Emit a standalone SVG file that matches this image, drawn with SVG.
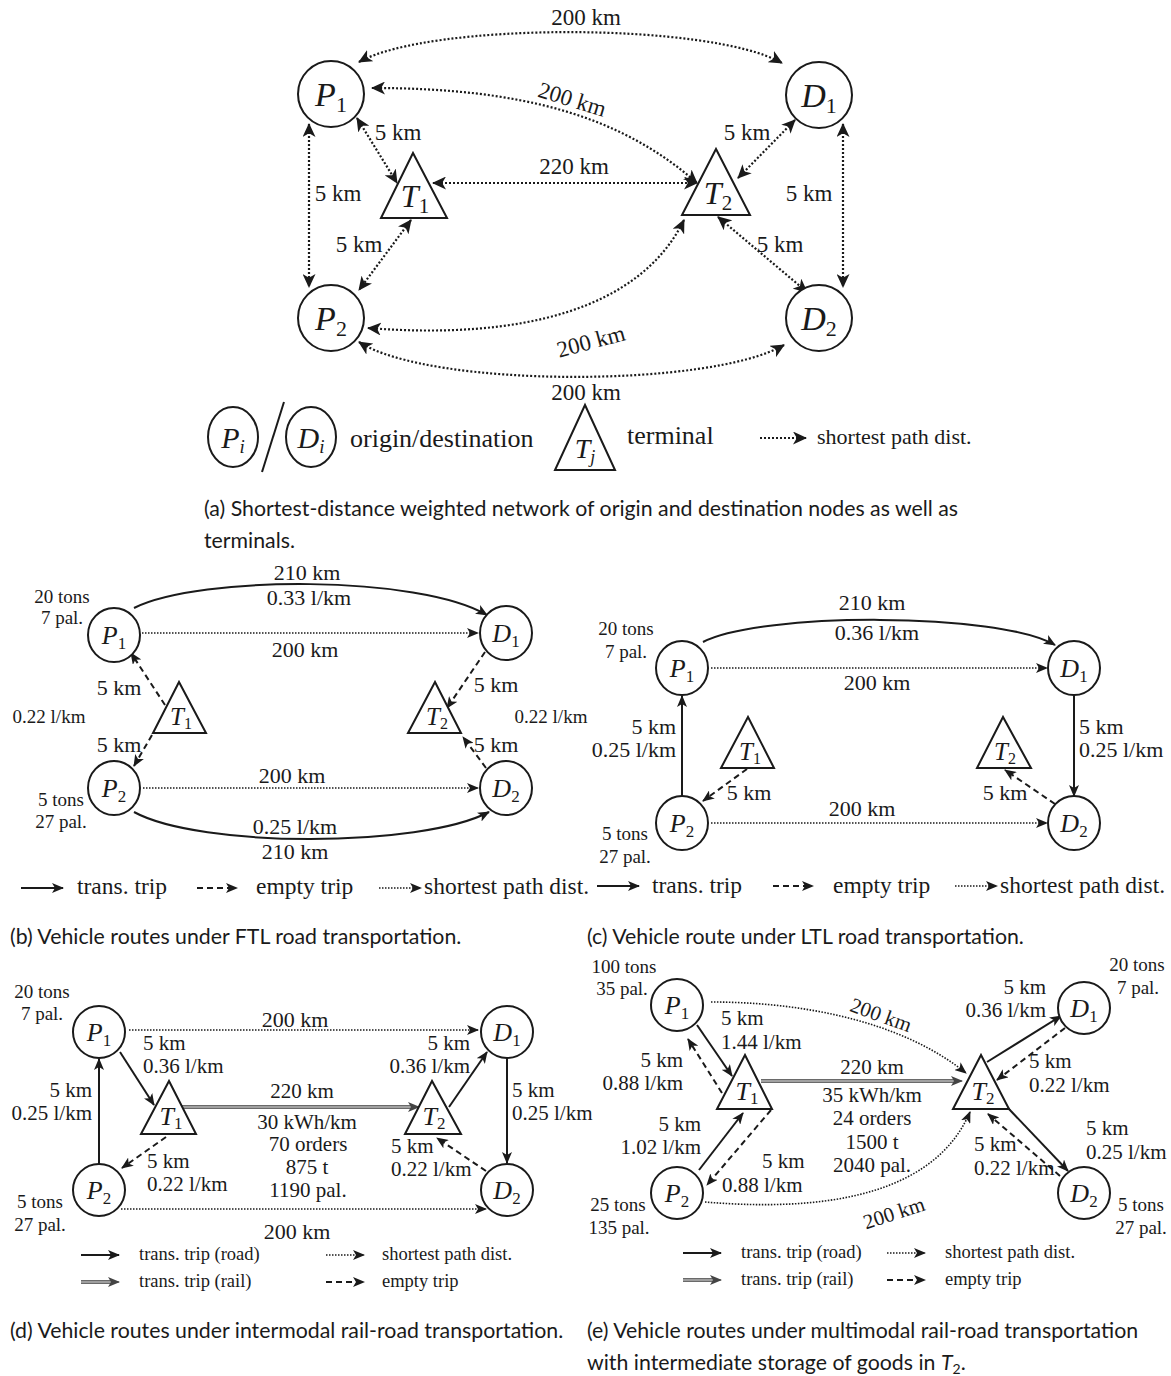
<svg xmlns="http://www.w3.org/2000/svg" width="1171" height="1376" viewBox="0 0 1171 1376">
<style>
.bg{fill:#fff}
.n{fill:#fff;stroke:#1a1a1a;stroke-width:2}
.nl{font-family:"Liberation Serif",serif;fill:#1a1a1a;text-anchor:middle}
.it{font-style:italic}
.t{font-family:"Liberation Serif",serif;fill:#1a1a1a;font-size:22px}
.ta{font-family:"Liberation Serif",serif;fill:#1a1a1a;font-size:23px;text-anchor:middle}
.m{text-anchor:middle}
.e{text-anchor:end}
.s{font-size:19px}
.u{font-size:21px}
.lb{font-size:23.5px}
.big{font-size:26px}
.lg{font-family:"Liberation Serif",serif;fill:#1a1a1a;font-size:18.5px}
.cap{font-family:Lato,"Open Sans",sans-serif;font-size:21.3px;fill:#1a1a1a}
.dotA{fill:none;stroke:#1a1a1a;stroke-width:2.2;stroke-dasharray:2 2}
.dot{fill:none;stroke:#1a1a1a;stroke-width:1.6;stroke-dasharray:1.5 1.5}
.sol{fill:none;stroke:#1a1a1a;stroke-width:2}
.dash{fill:none;stroke:#1a1a1a;stroke-width:2;stroke-dasharray:6 4}
.rail{fill:none;stroke:#6a6a6a;stroke-width:4}
.railc{fill:none;stroke:#b5b5b5;stroke-width:1.4}
</style>
<defs>
<marker id="ah" markerUnits="userSpaceOnUse" markerWidth="15" markerHeight="13" refX="13" refY="6.5" orient="auto-start-reverse" viewBox="0 0 15 13">
<path d="M0,0 L14,6.5 L0,13 L3.8,6.5 z" fill="#1a1a1a"/>
</marker>
<marker id="as" markerUnits="userSpaceOnUse" markerWidth="12" markerHeight="10" refX="11" refY="5" orient="auto-start-reverse" viewBox="0 0 12 10">
<path d="M0,0 L12,5 L0,10 L3,5 z" fill="#1a1a1a"/>
</marker>
<marker id="ag" markerUnits="userSpaceOnUse" markerWidth="12" markerHeight="10" refX="11" refY="5" orient="auto" viewBox="0 0 12 10">
<path d="M0,0 L12,5 L0,10 L3,5 z" fill="#444"/>
</marker>
</defs>
<rect class="bg" x="0" y="0" width="1171" height="1376"/>

<!-- ================= PANEL (a) ================= -->
<g id="a-connectors">
<path class="dotA" d="M359,62 C430,22 710,22 782,63" marker-start="url(#ah)" marker-end="url(#ah)"/>
<path class="dotA" d="M372,88 C520,88 620,115 697,183" marker-start="url(#ah)" marker-end="url(#ah)"/>
<path class="dotA" d="M357,118 L397,183" marker-start="url(#ah)" marker-end="url(#ah)"/>
<path class="dotA" d="M309,124 L309,287" marker-start="url(#ah)" marker-end="url(#ah)"/>
<path class="dotA" d="M433,183 L697,183" marker-start="url(#ah)" marker-end="url(#ah)"/>
<path class="dotA" d="M795,120 L738,178" marker-start="url(#ah)" marker-end="url(#ah)"/>
<path class="dotA" d="M843,124 L843,287" marker-start="url(#ah)" marker-end="url(#ah)"/>
<path class="dotA" d="M411,220 L359,290" marker-start="url(#ah)" marker-end="url(#ah)"/>
<path class="dotA" d="M718,217 L807,292" marker-start="url(#ah)" marker-end="url(#ah)"/>
<path class="dotA" d="M368,328 C520,340 640,310 684,220" marker-start="url(#ah)" marker-end="url(#ah)"/>
<path class="dotA" d="M359,342 C430,388 710,388 784,345" marker-start="url(#ah)" marker-end="url(#ah)"/>
<text class="ta" x="586" y="25">200 km</text>
<text class="ta" x="572" y="107" transform="rotate(17 572 100)">200 km</text>
<text class="ta" x="398" y="140">5 km</text>
<text class="ta" x="747" y="140">5 km</text>
<text class="ta" x="574" y="174">220 km</text>
<text class="ta" x="338" y="201">5 km</text>
<text class="ta" x="809" y="201">5 km</text>
<text class="ta" x="359" y="252">5 km</text>
<text class="ta" x="780" y="252">5 km</text>
<text class="ta" x="591" y="349" transform="rotate(-15 591 342)">200 km</text>
<text class="ta" x="586" y="400">200 km</text>
</g>
<g id="a-P1"><ellipse class="n" cx="331" cy="94" rx="33" ry="33"/><text class="nl" x="331" y="106" font-size="34"><tspan class="it">P</tspan><tspan font-size="22" dy="6">1</tspan></text></g>
<g id="a-D1"><ellipse class="n" cx="819" cy="95" rx="33" ry="33"/><text class="nl" x="819" y="107" font-size="34"><tspan class="it">D</tspan><tspan font-size="22" dy="6">1</tspan></text></g>
<g id="a-P2"><ellipse class="n" cx="331" cy="318" rx="33" ry="33"/><text class="nl" x="331" y="330" font-size="34"><tspan class="it">P</tspan><tspan font-size="22" dy="6">2</tspan></text></g>
<g id="a-D2"><ellipse class="n" cx="819" cy="318" rx="33" ry="33"/><text class="nl" x="819" y="330" font-size="34"><tspan class="it">D</tspan><tspan font-size="22" dy="6">2</tspan></text></g>
<g id="a-T1"><polygon class="n" points="413,153 381,218 447,218"/><text class="nl" x="415" y="207" font-size="32"><tspan class="it">T</tspan><tspan font-size="21" dy="6">1</tspan></text></g>
<g id="a-T2"><polygon class="n" points="716,149 682,215 750,215"/><text class="nl" x="718" y="204" font-size="32"><tspan class="it">T</tspan><tspan font-size="21" dy="6">2</tspan></text></g>

<g id="a-legend">
<ellipse class="n" cx="233" cy="437" rx="25" ry="30"/><text class="nl" x="233" y="448" font-size="30"><tspan class="it">P</tspan><tspan class="it" font-size="19" dy="5">i</tspan></text>
<line x1="262" y1="472" x2="284" y2="402" stroke="#1a1a1a" stroke-width="2"/>
<ellipse class="n" cx="311" cy="437" rx="25" ry="30"/><text class="nl" x="311" y="448" font-size="30"><tspan class="it">D</tspan><tspan class="it" font-size="19" dy="5">i</tspan></text>
<text class="t big" x="350" y="447">origin/destination</text>
<polygon class="n" points="585,405 555,470 615,470"/><text class="nl" x="585" y="458" font-size="28"><tspan class="it">T</tspan><tspan class="it" font-size="18" dy="5">j</tspan></text>
<text class="t big" x="627" y="444">terminal</text>
<path class="dotA" d="M760,438 L806,438" marker-end="url(#ah)"/>
<text class="t" x="817" y="444">shortest path dist.</text>
</g>
<text class="cap" x="204" y="516">(a) Shortest-distance weighted network of origin and destination nodes as well as</text>
<text class="cap" x="204" y="548">terminals.</text>

<!-- ================= PANEL (b) ================= -->
<g id="b-connectors">
<path class="sol" d="M134,608 C200,575 420,575 487,615" marker-end="url(#as)"/>
<path class="dot" d="M142,633 L478,633" marker-end="url(#as)"/>
<path class="dash" d="M165,705 L131,653" marker-end="url(#as)"/>
<path class="dash" d="M152,735 L134,766" marker-end="url(#as)"/>
<path class="dash" d="M485,652 L447,708" marker-end="url(#as)"/>
<path class="dash" d="M486,768 L463,737" marker-end="url(#as)"/>
<path class="dot" d="M143,788 L478,788" marker-end="url(#as)"/>
<path class="sol" d="M134,812 C200,848 420,848 489,812" marker-end="url(#as)"/>
<text class="t m" x="307" y="580">210 km</text>
<text class="t m" x="309" y="605">0.33 l/km</text>
<text class="t m" x="305" y="657">200 km</text>
<text class="t m s" x="62" y="603">20 tons</text>
<text class="t m s" x="62" y="624">7 pal.</text>
<text class="t m" x="119" y="695">5 km</text>
<text class="t m s" x="49" y="723">0.22 l/km</text>
<text class="t m" x="119" y="752">5 km</text>
<text class="t m" x="496" y="692">5 km</text>
<text class="t m s" x="551" y="723">0.22 l/km</text>
<text class="t m" x="496" y="752">5 km</text>
<text class="t m" x="292" y="783">200 km</text>
<text class="t m s" x="61" y="806">5 tons</text>
<text class="t m s" x="61" y="828">27 pal.</text>
<text class="t m" x="295" y="834">0.25 l/km</text>
<text class="t m" x="295" y="859">210 km</text>
</g>
<g id="b-P1"><ellipse class="n" cx="114" cy="635" rx="26" ry="27"/><text class="nl" x="114" y="644" font-size="26"><tspan class="it">P</tspan><tspan font-size="17" dy="5">1</tspan></text></g>
<g id="b-D1"><ellipse class="n" cx="506" cy="633" rx="26" ry="27"/><text class="nl" x="506" y="642" font-size="26"><tspan class="it">D</tspan><tspan font-size="17" dy="5">1</tspan></text></g>
<g id="b-P2"><ellipse class="n" cx="114" cy="788" rx="26" ry="27"/><text class="nl" x="114" y="797" font-size="26"><tspan class="it">P</tspan><tspan font-size="17" dy="5">2</tspan></text></g>
<g id="b-D2"><ellipse class="n" cx="506" cy="788" rx="26" ry="27"/><text class="nl" x="506" y="797" font-size="26"><tspan class="it">D</tspan><tspan font-size="17" dy="5">2</tspan></text></g>
<g id="b-T1"><polygon class="n" points="179,682 153,733 206,733"/><text class="nl" x="181" y="725" font-size="25"><tspan class="it">T</tspan><tspan font-size="16" dy="4">1</tspan></text></g>
<g id="b-T2"><polygon class="n" points="435,682 408,733 461,733"/><text class="nl" x="437" y="725" font-size="25"><tspan class="it">T</tspan><tspan font-size="16" dy="4">2</tspan></text></g>
<g id="b-legend">
<path class="sol" d="M21,888 L63,888" marker-end="url(#as)"/>
<text class="t lb" x="77" y="894">trans. trip</text>
<path class="dash" d="M197,888 L237,888" marker-end="url(#as)"/>
<text class="t lb" x="256" y="894">empty trip</text>
<path class="dot" d="M379,888 L421,888" marker-end="url(#as)"/>
<text class="t lb" x="424" y="894">shortest path dist.</text>
</g>
<text class="cap" x="10" y="944">(b) Vehicle routes under FTL road transportation.</text>

<!-- ================= PANEL (c) ================= -->
<g id="c-connectors">
<path class="sol" d="M703,642 C760,612 1000,612 1055,645" marker-end="url(#as)"/>
<path class="dot" d="M711,668 L1047,668" marker-end="url(#as)"/>
<path class="sol" d="M682,797 L682,696" marker-end="url(#as)"/>
<path class="dash" d="M747,769 L703,801" marker-end="url(#as)"/>
<path class="dot" d="M711,823 L1047,823" marker-end="url(#as)"/>
<path class="sol" d="M1074,695 L1074,796" marker-end="url(#as)"/>
<path class="dash" d="M1055,804 L1005,770" marker-end="url(#as)"/>
<text class="t m" x="872" y="610">210 km</text>
<text class="t m" x="877" y="640">0.36 l/km</text>
<text class="t m" x="877" y="690">200 km</text>
<text class="t m s" x="626" y="635">20 tons</text>
<text class="t m s" x="626" y="658">7 pal.</text>
<text class="t e" x="676" y="734">5 km</text>
<text class="t e" x="676" y="757">0.25 l/km</text>
<text class="t m" x="749" y="800">5 km</text>
<text class="t m" x="862" y="816">200 km</text>
<text class="t" x="1079" y="734">5 km</text>
<text class="t" x="1079" y="757">0.25 l/km</text>
<text class="t m" x="1005" y="800">5 km</text>
<text class="t m s" x="625" y="840">5 tons</text>
<text class="t m s" x="625" y="863">27 pal.</text>
</g>
<g id="c-P1"><ellipse class="n" cx="682" cy="668" rx="26" ry="27"/><text class="nl" x="682" y="677" font-size="26"><tspan class="it">P</tspan><tspan font-size="17" dy="5">1</tspan></text></g>
<g id="c-D1"><ellipse class="n" cx="1074" cy="668" rx="26" ry="27"/><text class="nl" x="1074" y="677" font-size="26"><tspan class="it">D</tspan><tspan font-size="17" dy="5">1</tspan></text></g>
<g id="c-P2"><ellipse class="n" cx="682" cy="823" rx="26" ry="27"/><text class="nl" x="682" y="832" font-size="26"><tspan class="it">P</tspan><tspan font-size="17" dy="5">2</tspan></text></g>
<g id="c-D2"><ellipse class="n" cx="1074" cy="823" rx="26" ry="27"/><text class="nl" x="1074" y="832" font-size="26"><tspan class="it">D</tspan><tspan font-size="17" dy="5">2</tspan></text></g>
<g id="c-T1"><polygon class="n" points="748,717 721,768 774,768"/><text class="nl" x="750" y="760" font-size="25"><tspan class="it">T</tspan><tspan font-size="16" dy="4">1</tspan></text></g>
<g id="c-T2"><polygon class="n" points="1003,717 977,768 1031,768"/><text class="nl" x="1005" y="760" font-size="25"><tspan class="it">T</tspan><tspan font-size="16" dy="4">2</tspan></text></g>
<g id="c-legend">
<path class="sol" d="M597,886 L639,886" marker-end="url(#as)"/>
<text class="t lb" x="652" y="893">trans. trip</text>
<path class="dash" d="M773,886 L813,886" marker-end="url(#as)"/>
<text class="t lb" x="833" y="893">empty trip</text>
<path class="dot" d="M955,886 L997,886" marker-end="url(#as)"/>
<text class="t lb" x="1000" y="893">shortest path dist.</text>
</g>
<text class="cap" x="587" y="944">(c) Vehicle route under LTL road transportation.</text>

<!-- ================= PANEL (d) ================= -->
<g id="d-connectors">
<path class="dot" d="M129,1030 L478,1030" marker-end="url(#as)"/>
<path class="sol" d="M120,1052 L154,1105" marker-end="url(#as)"/>
<path class="sol" d="M99,1164 L99,1059" marker-end="url(#as)"/>
<path class="rail" d="M182,1107 L412,1107"/>
<path class="railc" d="M182,1107 L412,1107"/>
<path d="M412,1107 L419,1107" stroke="#444" stroke-width="1" marker-end="url(#ag)"/>
<path class="dash" d="M166,1137 L122,1168" marker-end="url(#as)"/>
<path class="sol" d="M449,1107 L487,1052" marker-end="url(#as)"/>
<path class="sol" d="M507,1058 L507,1163" marker-end="url(#as)"/>
<path class="dash" d="M486,1171 L437,1138" marker-end="url(#as)"/>
<path class="dot" d="M121,1209 L486,1209" marker-end="url(#as)"/>
<text class="t m s" x="42" y="998">20 tons</text>
<text class="t m s" x="42" y="1020">7 pal.</text>
<text class="t m" x="295" y="1027">200 km</text>
<text class="t u" x="143" y="1050">5 km</text>
<text class="t u" x="143" y="1073">0.36 l/km</text>
<text class="t u e" x="92" y="1097">5 km</text>
<text class="t u e" x="92" y="1120">0.25 l/km</text>
<text class="t u m" x="302" y="1098">220 km</text>
<text class="t u m" x="307" y="1129">30 kWh/km</text>
<text class="t u m" x="308" y="1151">70 orders</text>
<text class="t u m" x="307" y="1174">875 t</text>
<text class="t u m" x="308" y="1197">1190 pal.</text>
<text class="t u" x="147" y="1168">5 km</text>
<text class="t u" x="147" y="1191">0.22 l/km</text>
<text class="t u e" x="470" y="1050">5 km</text>
<text class="t u e" x="470" y="1073">0.36 l/km</text>
<text class="t u" x="512" y="1097">5 km</text>
<text class="t u" x="512" y="1120">0.25 l/km</text>
<text class="t u" x="391" y="1153">5 km</text>
<text class="t u" x="391" y="1176">0.22 l/km</text>
<text class="t m" x="297" y="1239">200 km</text>
<text class="t m s" x="40" y="1208">5 tons</text>
<text class="t m s" x="40" y="1231">27 pal.</text>
</g>
<g id="d-P1"><ellipse class="n" cx="99" cy="1032" rx="26" ry="26"/><text class="nl" x="99" y="1041" font-size="26"><tspan class="it">P</tspan><tspan font-size="17" dy="5">1</tspan></text></g>
<g id="d-D1"><ellipse class="n" cx="507" cy="1032" rx="26" ry="26"/><text class="nl" x="507" y="1041" font-size="26"><tspan class="it">D</tspan><tspan font-size="17" dy="5">1</tspan></text></g>
<g id="d-P2"><ellipse class="n" cx="99" cy="1190" rx="26" ry="26"/><text class="nl" x="99" y="1199" font-size="26"><tspan class="it">P</tspan><tspan font-size="17" dy="5">2</tspan></text></g>
<g id="d-D2"><ellipse class="n" cx="507" cy="1190" rx="26" ry="26"/><text class="nl" x="507" y="1199" font-size="26"><tspan class="it">D</tspan><tspan font-size="17" dy="5">2</tspan></text></g>
<g id="d-T1"><polygon class="n" points="169,1081 141,1134 196,1134"/><text class="nl" x="171" y="1125" font-size="26"><tspan class="it">T</tspan><tspan font-size="17" dy="4">1</tspan></text></g>
<g id="d-T2"><polygon class="n" points="432,1081 405,1134 461,1134"/><text class="nl" x="434" y="1125" font-size="26"><tspan class="it">T</tspan><tspan font-size="17" dy="4">2</tspan></text></g>
<g id="d-legend">
<path class="sol" d="M81,1255 L119,1255" marker-end="url(#as)"/>
<text class="lg" x="139" y="1260">trans. trip (road)</text>
<path class="rail" d="M81,1282 L112,1282"/><path class="railc" d="M81,1282 L112,1282"/>
<path d="M112,1282 L119,1282" stroke="#444" stroke-width="1" marker-end="url(#ag)"/>
<text class="lg" x="139" y="1287">trans. trip (rail)</text>
<path class="dot" d="M326,1255 L364,1255" marker-end="url(#as)"/>
<text class="lg" x="382" y="1260">shortest path dist.</text>
<path class="dash" d="M326,1282 L364,1282" marker-end="url(#as)"/>
<text class="lg" x="382" y="1287">empty trip</text>
</g>
<text class="cap" x="10" y="1338">(d) Vehicle routes under intermodal rail-road transportation.</text>

<!-- ================= PANEL (e) ================= -->
<g id="e-connectors">
<path class="dot" d="M711,1002 C800,1002 900,1020 966,1073" marker-end="url(#as)"/>
<path class="sol" d="M697,1025 L732,1076" marker-end="url(#as)"/>
<path class="dash" d="M722,1093 L688,1039" marker-end="url(#as)"/>
<path class="rail" d="M761,1081 L955,1081"/>
<path class="railc" d="M761,1081 L955,1081"/>
<path d="M955,1081 L962,1081" stroke="#444" stroke-width="1" marker-end="url(#ag)"/>
<path class="sol" d="M699,1170 L743,1113" marker-end="url(#as)"/>
<path class="dash" d="M771,1110 L707,1185" marker-end="url(#as)"/>
<path class="dot" d="M705,1202 C800,1210 930,1205 970,1112" marker-end="url(#as)"/>
<path class="sol" d="M987,1062 L1061,1016" marker-end="url(#as)"/>
<path class="dash" d="M1065,1028 L997,1080" marker-end="url(#as)"/>
<path class="sol" d="M1008,1108 L1068,1171" marker-end="url(#as)"/>
<path class="dash" d="M1060,1176 L988,1114" marker-end="url(#as)"/>
<text class="t m s" x="624" y="973">100 tons</text>
<text class="t m s" x="622" y="995">35 pal.</text>
<text class="t m s" x="1137" y="971">20 tons</text>
<text class="t m s" x="1138" y="994">7 pal.</text>
<text class="t u m" x="881" y="1022" transform="rotate(20 881 1015)">200 km</text>
<text class="t u" x="721" y="1025">5 km</text>
<text class="t u" x="721" y="1049">1.44 l/km</text>
<text class="t u e" x="683" y="1067">5 km</text>
<text class="t u e" x="683" y="1090">0.88 l/km</text>
<text class="t u m" x="872" y="1074">220 km</text>
<text class="t u m" x="872" y="1102">35 kWh/km</text>
<text class="t u m" x="872" y="1125">24 orders</text>
<text class="t u m" x="872" y="1149">1500 t</text>
<text class="t u m" x="872" y="1172">2040 pal.</text>
<text class="t u e" x="701" y="1131">5 km</text>
<text class="t u e" x="701" y="1154">1.02 l/km</text>
<text class="t u" x="762" y="1168">5 km</text>
<text class="t u" x="722" y="1192">0.88 l/km</text>
<text class="t u m" x="894" y="1220" transform="rotate(-18 894 1213)">200 km</text>
<text class="t u e" x="1046" y="994">5 km</text>
<text class="t u e" x="1046" y="1017">0.36 l/km</text>
<text class="t u" x="1029" y="1068">5 km</text>
<text class="t u" x="1029" y="1092">0.22 l/km</text>
<text class="t u" x="1086" y="1135">5 km</text>
<text class="t u" x="1086" y="1159">0.25 l/km</text>
<text class="t u" x="974" y="1151">5 km</text>
<text class="t u" x="974" y="1175">0.22 l/km</text>
<text class="t m s" x="618" y="1211">25 tons</text>
<text class="t m s" x="619" y="1234">135 pal.</text>
<text class="t m s" x="1141" y="1211">5 tons</text>
<text class="t m s" x="1141" y="1234">27 pal.</text>
</g>
<g id="e-P1"><ellipse class="n" cx="677" cy="1005" rx="26" ry="26"/><text class="nl" x="677" y="1014" font-size="26"><tspan class="it">P</tspan><tspan font-size="17" dy="5">1</tspan></text></g>
<g id="e-D1"><ellipse class="n" cx="1084" cy="1008" rx="26" ry="26"/><text class="nl" x="1084" y="1017" font-size="26"><tspan class="it">D</tspan><tspan font-size="17" dy="5">1</tspan></text></g>
<g id="e-P2"><ellipse class="n" cx="677" cy="1193" rx="26" ry="26"/><text class="nl" x="677" y="1202" font-size="26"><tspan class="it">P</tspan><tspan font-size="17" dy="5">2</tspan></text></g>
<g id="e-D2"><ellipse class="n" cx="1084" cy="1193" rx="26" ry="26"/><text class="nl" x="1084" y="1202" font-size="26"><tspan class="it">D</tspan><tspan font-size="17" dy="5">2</tspan></text></g>
<g id="e-T1"><polygon class="n" points="745,1055 717,1109 772,1109"/><text class="nl" x="747" y="1100" font-size="26"><tspan class="it">T</tspan><tspan font-size="17" dy="4">1</tspan></text></g>
<g id="e-T2"><polygon class="n" points="981,1055 953,1109 1009,1109"/><text class="nl" x="983" y="1100" font-size="26"><tspan class="it">T</tspan><tspan font-size="17" dy="4">2</tspan></text></g>
<g id="e-legend">
<path class="sol" d="M683,1253 L721,1253" marker-end="url(#as)"/>
<text class="lg" x="741" y="1258">trans. trip (road)</text>
<path class="rail" d="M683,1280 L714,1280"/><path class="railc" d="M683,1280 L714,1280"/>
<path d="M714,1280 L721,1280" stroke="#444" stroke-width="1" marker-end="url(#ag)"/>
<text class="lg" x="741" y="1285">trans. trip (rail)</text>
<path class="dot" d="M887,1253 L925,1253" marker-end="url(#as)"/>
<text class="lg" x="945" y="1258">shortest path dist.</text>
<path class="dash" d="M887,1280 L925,1280" marker-end="url(#as)"/>
<text class="lg" x="945" y="1285">empty trip</text>
</g>
<text class="cap" x="587" y="1338">(e) Vehicle routes under multimodal rail-road transportation</text>
<text class="cap" x="587" y="1370">with intermediate storage of goods in <tspan font-style="italic">T</tspan><tspan font-size="14" dy="4">2</tspan><tspan dy="-4">.</tspan></text>
</svg>
